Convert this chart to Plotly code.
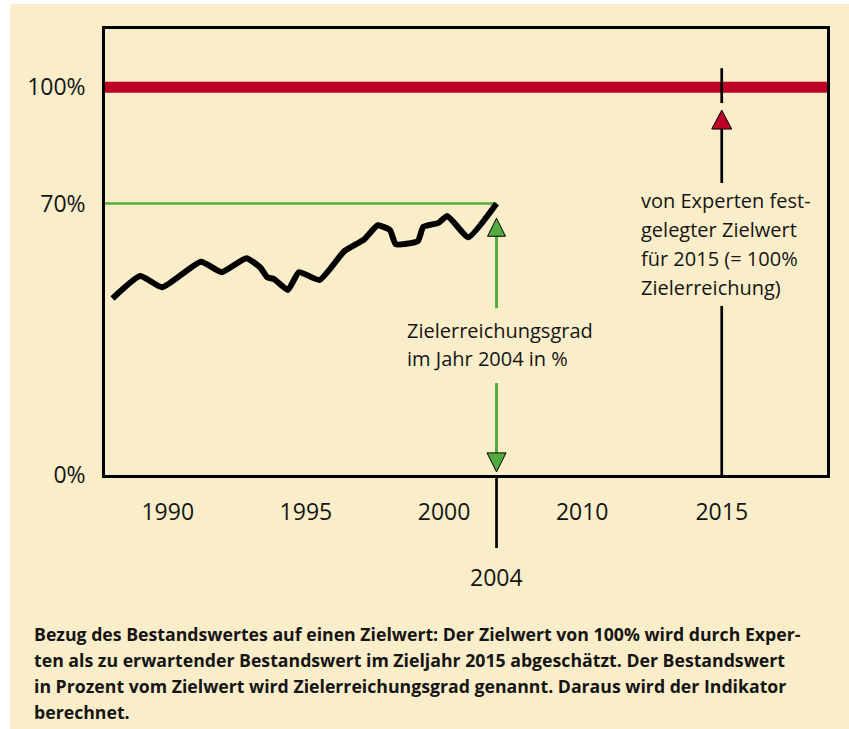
import numpy as np
import plotly.graph_objects as go

# ---------------- data ----------------
years = [1988.0, 1989.0, 1989.8, 1991.2, 1991.95, 1992.85, 1993.35, 1993.6, 1993.85,
         1994.35, 1994.75, 1995.5, 1996.4, 1997.1, 1997.6, 1998.05, 1998.25, 1999.05,
         1999.25, 1999.8, 2000.25, 2001.85, 2004.0]
values = [45.5, 51.3, 48.4, 55.0, 52.3, 55.9, 53.5, 51.0, 50.5,
          47.7, 52.3, 50.3, 57.8, 60.7, 64.4, 63.1, 59.5, 60.3,
          64.0, 65.0, 66.8, 61.3, 70.0]
tick_years = [1990, 1995, 2000, 2010, 2015]
tick_labels = ["1990", "1995", "2000", "2010", "2015"]
y_tick_vals = [0, 70, 100]
y_tick_labels = ["0%", "70%", "100%"]
target_value = 100
current_year = 2004
current_value = 70
target_year = 2015

text_current = ["Zielerreichungsgrad", "im Jahr 2004 in %"]
text_target = ["von Experten fest-", "gelegter Zielwert", "für 2015 (= 100%", "Zielerreichung)"]
caption_lines = [
    "Bezug des Bestandswertes auf einen Zielwert: Der Zielwert von 100% wird durch Exper-",
    "ten als zu erwartender Bestandswert im Zieljahr 2015 abgeschätzt. Der Bestandswert",
    "in Prozent vom Zielwert wird Zielerreichungsgrad genannt. Daraus wird der Indikator",
    "berechnet.",
]

# ---------------- schematic (non-linear) time axis ----------------
ANCHOR_YEARS = [1985, 1990, 1995, 2000, 2004, 2010, 2015, 2020]
ANCHOR_POS = [1985, 1990, 1995, 2000, 2001.9, 2005.0, 2010.05, 2015.1]


def pos(y):
    return np.interp(y, ANCHOR_YEARS, ANCHOR_POS)


# ---------------- geometry ----------------
W, H = 849, 729
L, R, T, B = 105, 22, 29, 254
PW, PH = W - L - R, H - T - B
XR = [1987.73, 2013.86]
YR = [0, 115]
dxpp = (XR[1] - XR[0]) / PW
dypp = (YR[1] - YR[0]) / PH


def py(pix):  # paper y for a pixel row
    return (H - B - pix) / PH


def px(pix):  # paper x for a pixel column
    return (pix - L) / PW


BG = "#FAEDC9"
RED = "#BC0027"
GREEN = "#52AD3E"
FONT = "'Open Sans', Lato, sans-serif"
TXT = "#151515"

fig = go.Figure()


def triangle(xc, ytip, up, w_px, h_px, color):
    hw = w_px / 2 * dxpp
    hh = h_px * dypp * (-1 if up else 1)
    xs = [xc - hw, xc + hw, xc, xc - hw]
    ys = [ytip + hh, ytip + hh, ytip, ytip + hh]
    fig.add_trace(go.Scatter(x=xs, y=ys, mode="lines", fill="toself", fillcolor=color,
                             line=dict(color="black", width=1), hoverinfo="skip",
                             showlegend=False))


def vline(xc, y0, y1, color, width):
    fig.add_trace(go.Scatter(x=[xc, xc], y=[y0, y1], mode="lines",
                             line=dict(color=color, width=width), hoverinfo="skip",
                             showlegend=False))


xc = float(pos(current_year))
xt = float(pos(target_year))

# green horizontal reference at current value
fig.add_trace(go.Scatter(x=[XR[0], xc], y=[current_value, current_value], mode="lines",
                         line=dict(color=GREEN, width=2.5), hoverinfo="skip", showlegend=False))

# green arrows
vline(xc, 61.6, 43.0, GREEN, 3)
vline(xc, 23.7, 5.7, GREEN, 3)
triangle(xc, 66.2, True, 18, 18, GREEN)
triangle(xc, 0.8, False, 19, 19, GREEN)

# black target marker lines and red arrow
vline(xt, 104.9, 95.9, "black", 2.7)
vline(xt, 89.2, 75.3, "black", 2.7)
vline(xt, 43.6, 0, "black", 2.7)
triangle(xt, 94.1, True, 20, 19, RED)

# main data line
fig.add_trace(go.Scatter(x=pos(years), y=values, mode="lines",
                         line=dict(color="black", width=6, shape="spline", smoothing=0.45),
                         hoverinfo="skip", showlegend=False))

shapes = [
    dict(type="rect", xref="paper", yref="paper", x0=px(10), x1=px(W + 5), y0=py(4), y1=py(H + 5),
         fillcolor=BG, line=dict(width=0), layer="below"),
    dict(type="line", xref="paper", yref="y", x0=0, x1=1, y0=target_value, y1=target_value,
         line=dict(color=RED, width=11), layer="below"),
    dict(type="line", xref="x", yref="paper", x0=xc, x1=xc, y0=0, y1=py(548),
         line=dict(color="black", width=2.7)),
]

annotations = []
for i, t in enumerate(text_current):
    annotations.append(dict(text=t, xref="paper", yref="paper", x=px(405), y=py(330.5 + 27.5 * i),
                            xanchor="left", yanchor="middle", showarrow=False,
                            font=dict(family=FONT, size=20, color=TXT)))
for i, t in enumerate(text_target):
    annotations.append(dict(text=t, xref="paper", yref="paper", x=px(639), y=py(200 + 29.3 * i),
                            xanchor="left", yanchor="middle", showarrow=False,
                            font=dict(family=FONT, size=20, color=TXT)))
for i, t in enumerate(caption_lines):
    annotations.append(dict(text="<b>" + t + "</b>", xref="paper", yref="paper", x=px(32),
                            y=py(634 + 26 * i), xanchor="left", yanchor="middle", showarrow=False,
                            font=dict(family=FONT, size=17.7, color=TXT)))
annotations.append(dict(text=str(current_year), xref="x", yref="paper", x=xc, y=py(577),
                        xanchor="center", yanchor="middle", showarrow=False,
                        font=dict(family=FONT, size=23, color=TXT)))

fig.update_layout(
    width=W, height=H,
    margin=dict(l=L, r=R, t=T, b=B, pad=0),
    paper_bgcolor="white", plot_bgcolor="rgba(0,0,0,0)",
    shapes=shapes, annotations=annotations,
    font=dict(family=FONT, color=TXT),
    xaxis=dict(range=XR, tickvals=pos(tick_years), ticktext=tick_labels, showgrid=False,
               zeroline=False, showline=True, mirror=True, linecolor="black", linewidth=2.5,
               ticks="", ticklabelstandoff=15, tickfont=dict(family=FONT, size=23, color=TXT),
               fixedrange=True),
    yaxis=dict(range=YR, tickvals=y_tick_vals, ticktext=y_tick_labels, showgrid=False,
               zeroline=False, showline=True, mirror=True, linecolor="black", linewidth=2.5,
               ticks="", ticklabelstandoff=12, tickfont=dict(family=FONT, size=23, color=TXT),
               fixedrange=True),
)

fig.write_html("out.html", config={"displayModeBar": False},
               post_script="document.body.style.margin='0';")
